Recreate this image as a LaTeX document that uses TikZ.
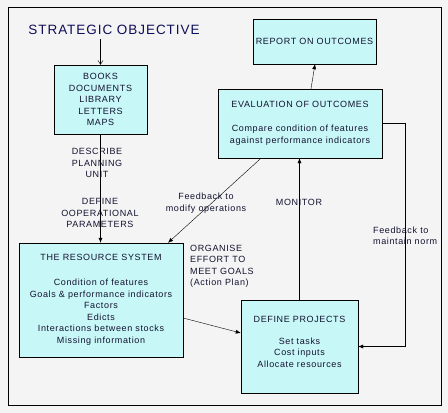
\documentclass[tikz,border=0pt]{standalone}
\usepackage{fontspec}
\setmainfont{Liberation Sans}[LetterSpace=7]
\usetikzlibrary{arrows.meta,positioning}
\definecolor{ink}{HTML}{121230}
\definecolor{paper}{HTML}{F4F4F4}
\definecolor{aqua}{HTML}{C8F7F7}

\begin{document}
\begin{tikzpicture}[x=1pt,y=-1pt,
    every node/.style={font=\fontsize{9}{11.5}\selectfont,text=ink,inner sep=0pt},
    box/.style={rectangle,draw=black,fill=aqua,align=center},
    note/.style={align=center},
    link/.style={-{Latex[length=5pt,width=4pt]},black}]
  \fill[paper] (0,0) rectangle (448,413);
  \draw[black] (8,7) rectangle (441,405);

  \node[font=\fontsize{13.5}{16}\selectfont,text=ink!80!blue] (goal) at (114,30) {STRATEGIC OBJECTIVE};
  \node[box,minimum width=93pt,minimum height=69pt] (books) at (100.5,99.5)
    {BOOKS\\DOCUMENTS\\LIBRARY\\LETTERS\\MAPS};
  \node[box,minimum width=123pt,minimum height=45pt] (report) at (314.5,41.5)
    {REPORT ON OUTCOMES};
  \node[box,minimum width=164pt,minimum height=69pt] (eval) at (300,123.5)
    {EVALUATION OF OUTCOMES\\[12.5pt]Compare condition of features\\against performance indicators};
  \node[box,minimum width=164pt,minimum height=114pt] (resource) at (101,300)
    {THE RESOURCE SYSTEM\\[13.5pt]Condition of features\\Goals \& performance indicators\\Factors\\Edicts\\Interactions between stocks\\Missing information};
  \node[box,minimum width=117pt,minimum height=93pt] (projects) at (299.5,346.5)
    {DEFINE PROJECTS\\[10.5pt]Set tasks\\Cost inputs\\Allocate resources\\[-1.5pt]\mbox{}};

  % labels on the links
  \node[note] (describe) at (97,163) {DESCRIBE\\PLANNING\\UNIT};
  \node[note] (params) at (100,213) {DEFINE\\OOPERATIONAL\\PARAMETERS};
  \node[note] (modify) at (206,203) {Feedback to\\modify operations};
  \node (monitor) at (299,202) {MONITOR};
  \node[align=left,anchor=west] (maintain) at (373,236) {Feedback to\\maintain norm};
  \node[align=left,anchor=west] (organise) at (190,266.5)
    {ORGANISE\\EFFORT TO\\MEET GOALS\\(Action Plan)};

  \draw[-{Straight Barb[length=4pt,width=5pt]},black]
    ([yshift=-4pt]goal.south -| books.north) -- (books.north);
  \draw[link] (books.south) -- (books.south |- resource.north);
  \draw[link] ([xshift=11pt]eval.north) -- ([xshift=0.5pt]report.south);
  \draw[link] ([xshift=-39pt]eval.south) -- ([xshift=67pt]resource.north);
  \draw[link] (projects.north) -- (projects.north |- eval.south);
  \draw[link] (eval.east) -- ++(23,0) |- (projects.east);
  \draw[link] ([yshift=-18pt]resource.east) -- ([yshift=13.5pt]projects.west);
\end{tikzpicture}
\end{document}
